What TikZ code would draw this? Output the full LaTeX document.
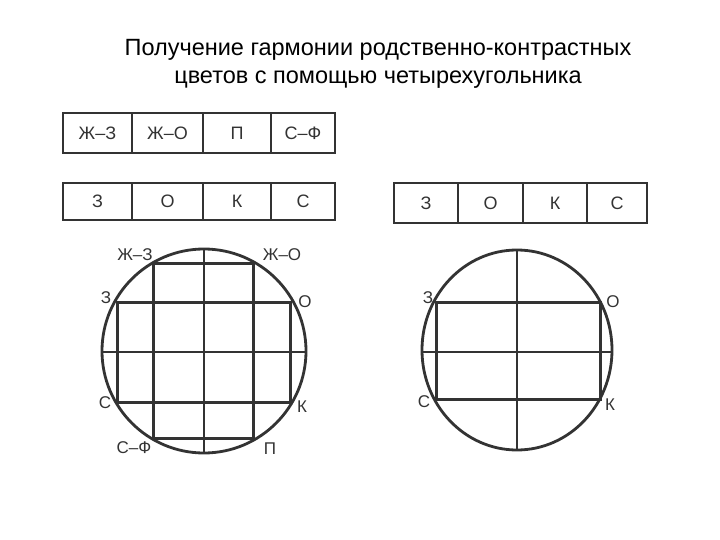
\documentclass[tikz,border=0pt]{standalone}
\usepackage{fontspec}
\setmainfont{Liberation Sans}
\begin{document}
\begin{tikzpicture}[x=1pt,y=-1pt,
  ink/.style={draw=black!80},
  cell/.style={ink, line width=2.8pt, rectangle, inner sep=0pt, font=\fontsize{18}{18}\selectfont, text=black!80},
  thickln/.style={ink, line width=3pt},
  thinln/.style={ink, line width=1.5pt},
  lbl/.style={font=\fontsize{17}{17}\selectfont, text=black!80, inner sep=0pt}]
\useasboundingbox (0,0) rectangle (720,540);
% title
\node[font=\fontsize{23.5}{28}\selectfont, align=center] (title) at (378,64)
  {Получение гармонии родственно-контрастных\\цветов с помощью четырехугольника};
% top-left boxes row 1
\node[cell, minimum width=69pt, minimum height=40pt] (a1) at (97.5,133) {Ж–З};
\node[cell, minimum width=71pt, minimum height=40pt] (a2) at (167.5,133) {Ж–О};
\node[cell, minimum width=68pt, minimum height=40pt] (a3) at (237,133) {П};
\node[cell, minimum width=64pt, minimum height=40pt] (a4) at (303,133) {С–Ф};
% row 2
\node[cell, minimum width=69pt, minimum height=37pt] (b1) at (97.5,201.5) {З};
\node[cell, minimum width=71pt, minimum height=37pt] (b2) at (167.5,201.5) {О};
\node[cell, minimum width=68pt, minimum height=37pt] (b3) at (237,201.5) {К};
\node[cell, minimum width=64pt, minimum height=37pt] (b4) at (303,201.5) {С};
% right boxes
\node[cell, minimum width=64pt, minimum height=40pt] (c1) at (426,203) {З};
\node[cell, minimum width=65pt, minimum height=40pt] (c2) at (490.5,203) {О};
\node[cell, minimum width=64pt, minimum height=40pt] (c3) at (555,203) {К};
\node[cell, minimum width=60pt, minimum height=40pt] (c4) at (617,203) {С};

% left circle
\coordinate (L) at (204,351);
\draw[ink, line width=2.8pt] (L) circle (102);
\coordinate (Lt) at (204,249); \coordinate (Lb) at (204,453);
\coordinate (Ll) at (102,352); \coordinate (Lr) at (306,352);
\draw[thinln] (Lt) -- (Lb);
\draw[thinln] (Ll) -- (Lr);
\coordinate (tr1) at (153,263); \coordinate (tr2) at (253,263);
\coordinate (tr3) at (253,438); \coordinate (tr4) at (153,438);
\draw[thickln] (tr1) -- (tr2) -- (tr3) -- (tr4) -- cycle;
\coordinate (wr1) at (117,302); \coordinate (wr2) at (290,302);
\coordinate (wr3) at (290,402); \coordinate (wr4) at (117,402);
\draw[thickln] (wr1) -- (wr2) -- (wr3) -- (wr4) -- cycle;
\node[lbl] (l1) at (135,255) {Ж–З};
\node[lbl] (l2) at (282,255) {Ж–О};
\node[lbl] (l3) at (106,298) {З};
\node[lbl] (l4) at (305,302) {О};
\node[lbl] (l5) at (105,403) {С};
\node[lbl] (l6) at (302,407) {К};
\node[lbl] (l7) at (134,448) {С–Ф};
\node[lbl] (l8) at (270,449) {П};

% right circle
\coordinate (R) at (517,350);
\draw[ink, line width=2.8pt] (R) ellipse [x radius=95, y radius=100];
\coordinate (Rt) at (517,250); \coordinate (Rb) at (517,450);
\coordinate (Rl) at (422,352); \coordinate (Rr) at (612,352);
\draw[thinln] (Rt) -- (Rb);
\draw[thinln] (Rl) -- (Rr);
\coordinate (r1) at (436,302); \coordinate (r2) at (600,302);
\coordinate (r3) at (600,399); \coordinate (r4) at (436,399);
\draw[thickln] (r1) -- (r2) -- (r3) -- (r4) -- cycle;
\node[lbl] (m1) at (428,298) {З};
\node[lbl] (m2) at (613,302) {О};
\node[lbl] (m3) at (424,402) {С};
\node[lbl] (m4) at (610,405) {К};
\end{tikzpicture}
\end{document}
